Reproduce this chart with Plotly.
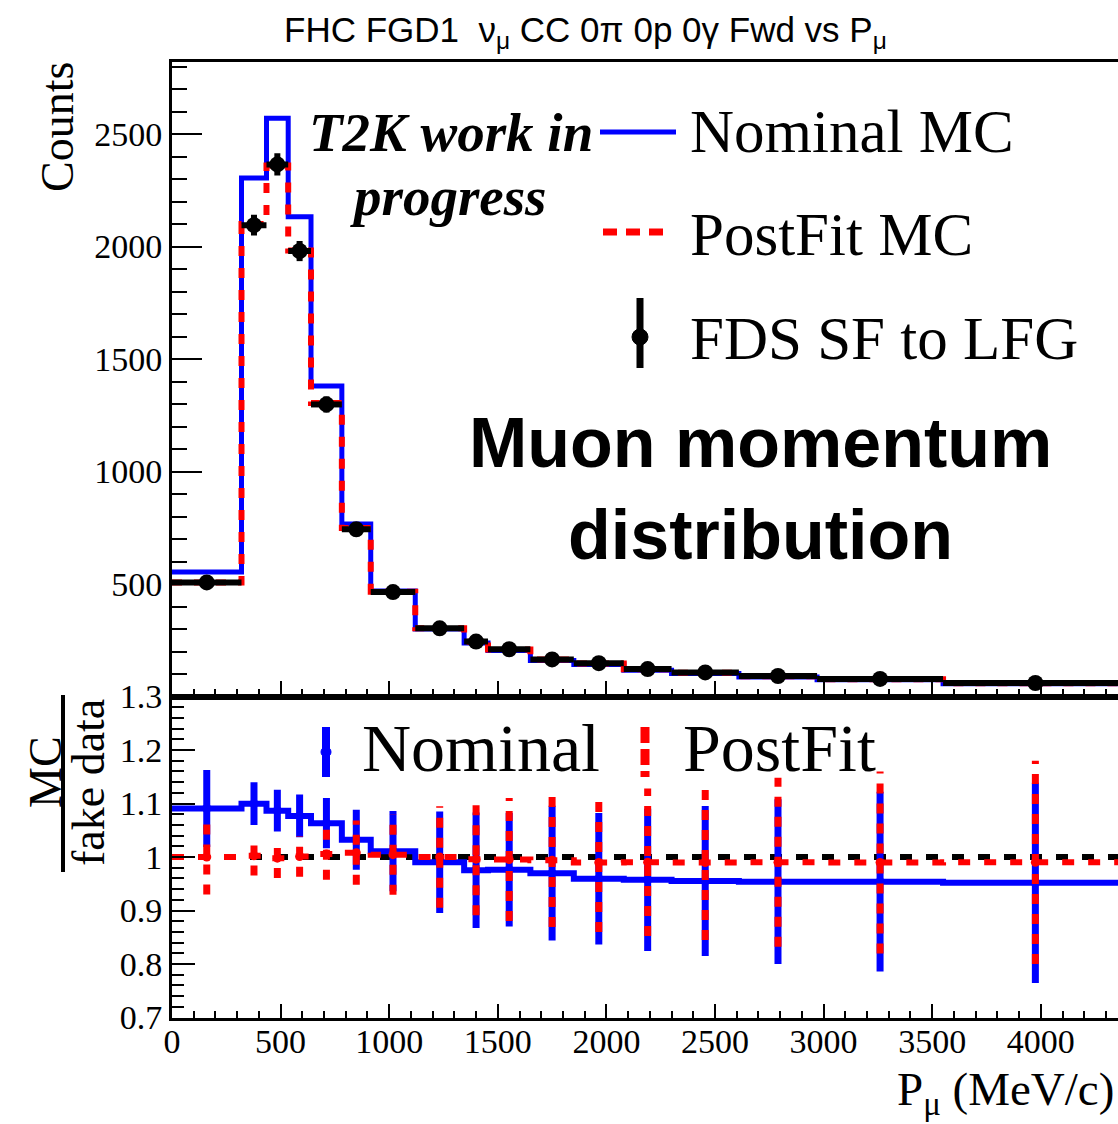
import plotly.graph_objects as go

# ---- binning in muon momentum (MeV/c) ----
bin_edges = [0, 320, 435, 535, 640, 782, 915, 1120, 1345, 1455, 1650,
             1850, 2080, 2300, 2610, 2970, 3550, 4400]

# ---- event counts per bin ----
nominal_mc = [553, 2304, 2570, 2132, 1380, 767, 469, 300, 238, 205, 160,
              142, 116.8, 102.2, 86.8, 74.4, 57.1]
postfit_mc = [507, 2100, 2360, 1982, 1305, 749, 466, 303, 243, 209, 164,
              146.5, 120.8, 105.9, 90.1, 77.2, 59.4]
fake_data = [507, 2095, 2365, 1980, 1298, 743, 464, 303, 244, 210, 165,
             148, 122, 107, 91, 78, 60]
fake_data_err = [23, 46, 49, 45, 36, 27, 22, 17, 16, 14, 13, 12, 11, 10, 10, 9, 8]

# ---- uncertainties on MC / fake data ----
nominal_ratio_err = [0.072, 0.040, 0.039, 0.040, 0.047, 0.056, 0.075, 0.095, 0.108,
                     0.106, 0.126, 0.123, 0.133, 0.140, 0.154, 0.168, 0.187]
postfit_ratio_err = [0.070, 0.037, 0.037, 0.038, 0.048, 0.060, 0.075, 0.095, 0.105,
                     0.115, 0.125, 0.130, 0.138, 0.145, 0.158, 0.170, 0.190]

# ---- axis ticks ----
count_ticks = [500, 1000, 1500, 2000, 2500]
ratio_ticks = [0.7, 0.8, 0.9, 1.0, 1.1, 1.2, 1.3]
ratio_tick_text = ["0.7", "0.8", "0.9", "1", "1.1", "1.2", "1.3"]
momentum_ticks = [0, 500, 1000, 1500, 2000, 2500, 3000, 3500, 4000]

W, H = 1118, 1124
BLUE = "#0000ff"
RED = "#ff0000"
SERIF = "Liberation Serif"
SANS = "Liberation Sans"


def fx(p):
    return p / W


def fy(p):
    return 1 - p / H


centers = [(a + b) / 2 for a, b in zip(bin_edges[:-1], bin_edges[1:])]
half_widths = [(b - a) / 2 for a, b in zip(bin_edges[:-1], bin_edges[1:])]
nominal_ratio = [m / d for m, d in zip(nominal_mc, fake_data)]
postfit_ratio = [m / d for m, d in zip(postfit_mc, fake_data)]


def step(vals):
    return list(vals) + [vals[-1]]


def bars(xs, ys, errs):
    bx, by = [], []
    for x, y, e in zip(xs, ys, errs):
        bx += [x, x, None]
        by += [y - e, y + e, None]
    return bx, by


fig = go.Figure()

# upper panel: distributions
fig.add_trace(go.Scatter(x=bin_edges, y=step(nominal_mc), mode="lines",
                         line=dict(color=BLUE, width=5, shape="hv"),
                         xaxis="x", yaxis="y", showlegend=False))
fig.add_trace(go.Scatter(x=bin_edges, y=step(postfit_mc), mode="lines",
                         line=dict(color=RED, width=6, shape="hv", dash="10px,12px"),
                         xaxis="x", yaxis="y", showlegend=False))
fig.add_trace(go.Scatter(x=centers, y=fake_data, mode="markers",
                         marker=dict(color="black", size=16),
                         error_x=dict(type="data", array=half_widths, thickness=6,
                                      width=0, color="black"),
                         error_y=dict(type="data", array=fake_data_err, thickness=6,
                                      width=0, color="black"),
                         xaxis="x", yaxis="y", showlegend=False))

# lower panel: ratios
fig.add_trace(go.Scatter(x=[0, bin_edges[-1]], y=[1, 1], mode="lines",
                         line=dict(color="black", width=6, dash="12px,14px"),
                         xaxis="x2", yaxis="y2", showlegend=False))
fig.add_trace(go.Scatter(x=bin_edges, y=step(nominal_ratio), mode="lines",
                         line=dict(color=BLUE, width=6, shape="hv"),
                         xaxis="x2", yaxis="y2", showlegend=False))
bx, by = bars(centers, nominal_ratio, nominal_ratio_err)
fig.add_trace(go.Scatter(x=bx, y=by, mode="lines",
                         line=dict(color=BLUE, width=7),
                         xaxis="x2", yaxis="y2", showlegend=False))
fig.add_trace(go.Scatter(x=centers, y=nominal_ratio, mode="markers",
                         marker=dict(color=BLUE, size=9),
                         xaxis="x2", yaxis="y2", showlegend=False))
fig.add_trace(go.Scatter(x=bin_edges, y=step(postfit_ratio), mode="lines",
                         line=dict(color=RED, width=6, shape="hv", dash="12px,14px"),
                         xaxis="x2", yaxis="y2", showlegend=False))
rx, ry = bars(centers, postfit_ratio, postfit_ratio_err)
fig.add_trace(go.Scatter(x=rx, y=ry, mode="lines",
                         line=dict(color=RED, width=7, dash="10px,10px"),
                         xaxis="x2", yaxis="y2", showlegend=False))
fig.add_trace(go.Scatter(x=centers, y=postfit_ratio, mode="markers",
                         marker=dict(color=RED, size=9),
                         xaxis="x2", yaxis="y2", showlegend=False))

X0, Y_TOP, Y_MID, Y_BOT = 172, 62, 696.5, 1017.5
x_max = (W - X0) / 0.2172

tick_font = dict(family=SERIF, size=34, color="black")
common_x = dict(domain=[fx(X0), 1], range=[0, x_max], showline=True, linewidth=3,
                linecolor="black", mirror=True, ticks="inside", tickwidth=2,
                tickcolor="black", tickvals=momentum_ticks, showgrid=False,
                zeroline=False, automargin=False)

fig.update_layout(
    width=W, height=H,
    margin=dict(l=0, r=0, t=0, b=0),
    paper_bgcolor="white", plot_bgcolor="white",
    xaxis=dict(**common_x, anchor="y", showticklabels=False, ticklen=16,
               minor=dict(dtick=100, ticklen=8, tickwidth=2, ticks="inside",
                          tickcolor="black")),
    yaxis=dict(domain=[fy(Y_MID), fy(Y_TOP)], range=[0, 2820], anchor="x",
               showline=True, linewidth=3, linecolor="black", mirror=True,
               ticks="inside", ticklen=30, tickwidth=2, tickcolor="black",
               tickvals=count_ticks, tickfont=tick_font, showgrid=False,
               zeroline=False, automargin=False,
               minor=dict(dtick=100, ticklen=15, tickwidth=2, ticks="inside",
                          tickcolor="black")),
    xaxis2=dict(**common_x, anchor="y2", ticklen=14, tickfont=tick_font,
                ticklabelstandoff=-8,
                minor=dict(dtick=100, ticklen=7, tickwidth=2, ticks="inside",
                           tickcolor="black")),
    yaxis2=dict(domain=[fy(Y_BOT), fy(Y_MID)], range=[0.7, 1.3], anchor="x2",
                showline=True, linewidth=3, linecolor="black", mirror=True,
                ticks="inside", ticklen=23, tickwidth=2, tickcolor="black",
                tickvals=ratio_ticks, ticktext=ratio_tick_text,
                tickfont=tick_font, showgrid=False, zeroline=False,
                automargin=False,
                minor=dict(dtick=0.02, ticklen=12, tickwidth=2, ticks="inside",
                           tickcolor="black")),
)

ann = []


def text(x, y, s, size, family=SERIF, xanchor="left", textangle=0, color="black"):
    ann.append(dict(x=fx(x), y=fy(y), xref="paper", yref="paper", text=s,
                    showarrow=False, xanchor=xanchor, yanchor="middle",
                    textangle=textangle,
                    font=dict(family=family, size=size, color=color)))


# title and axis titles
text(585, 32, "FHC FGD1 \u00a0\u03bd<sub>\u03bc</sub> CC 0\u03c0 0p 0\u03b3 Fwd vs P<sub>\u03bc</sub>",
     35, family=SANS, xanchor="center")
text(58, 127, "Counts", 46, textangle=-90, xanchor="center")
text(45, 772, "MC", 46, textangle=-90, xanchor="center")
text(88, 783, "fake data", 46, textangle=-90, xanchor="center")
text(1116, 1092, "P<sub>\u03bc</sub> (MeV/c)", 47, xanchor="right")

# upper legend
text(688, 132, "Nominal MC", 61)
text(688, 234, "PostFit MC", 61)
text(688, 338, "FDS SF to LFG", 61)

# lower legend
text(360, 748, "Nominal", 68)
text(681, 748, "PostFit", 68)

# labels on the canvas
text(451, 133, "<b><i>T2K work in</i></b>", 55, xanchor="center")
text(448, 196, "<b><i>progress</i></b>", 55, xanchor="center")
text(760, 443, "<b>Muon momentum</b>", 70, family=SANS, xanchor="center")
text(760, 535, "<b>distribution</b>", 70, family=SANS, xanchor="center")

fig.update_layout(annotations=ann)


def pline(x0, y0, x1, y1, **line):
    return dict(type="line", xref="paper", yref="paper",
                x0=fx(x0), x1=fx(x1), y0=fy(y0), y1=fy(y1), line=line)


def pdot(cx, cy, r, color):
    return dict(type="circle", xref="paper", yref="paper",
                x0=fx(cx - r), x1=fx(cx + r), y0=fy(cy + r), y1=fy(cy - r),
                fillcolor=color, line=dict(color=color, width=1))


shapes = [
    # fraction bar of the ratio axis title
    pline(63, 695, 63, 872, color="black", width=4),
    # legend symbols (upper)
    pline(600, 132, 676, 132, color=BLUE, width=5),
    pline(603, 232, 670, 232, color=RED, width=7, dash="14px,9px"),
    pline(640, 298, 640, 368, color="black", width=7),
    pdot(640, 337, 8, "black"),
    # legend symbols (lower)
    pline(326, 727, 326, 777, color=BLUE, width=8),
    pdot(326, 752, 5, BLUE),
    pline(645, 727, 645, 777, color=RED, width=9, dash="16px,6px"),
]
fig.update_layout(shapes=shapes)

fig.write_html("out.html")
